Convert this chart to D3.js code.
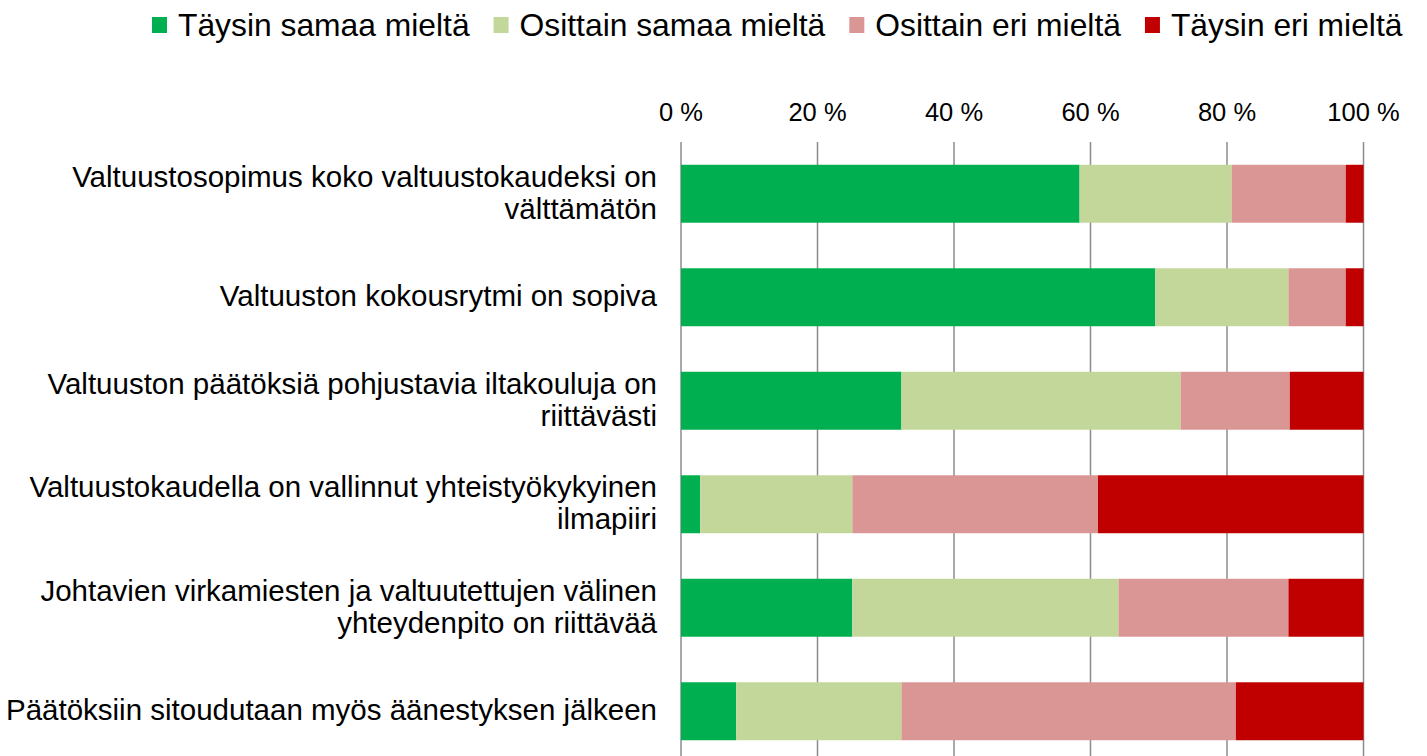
<!DOCTYPE html>
<html><head><meta charset="utf-8">
<script src="https://cdn.jsdelivr.net/npm/d3@7"></script>
<style>body{margin:0;background:#fff;}svg{display:block;font-family:"Liberation Sans",Arial,sans-serif;}</style>
</head><body>
<svg id="c" width="1427" height="756"></svg>
<script>
const categories = [
  ["Valtuustosopimus koko valtuustokaudeksi on", "välttämätön"],
  ["Valtuuston kokousrytmi on sopiva"],
  ["Valtuuston päätöksiä pohjustavia iltakouluja on", "riittävästi"],
  ["Valtuustokaudella on vallinnut yhteistyökykyinen", "ilmapiiri"],
  ["Johtavien virkamiesten ja valtuutettujen välinen", "yhteydenpito on riittävää"],
  ["Päätöksiin sitoudutaan myös äänestyksen jälkeen"]
];
const seriesNames = ["Täysin samaa mieltä", "Osittain samaa mieltä", "Osittain eri mieltä", "Täysin eri mieltä"];
const seriesColors = ["#00b050", "#c4d79b", "#da9694", "#c00000"];
const taysinSamaa   = [58.4, 69.5, 32.3, 2.8, 25.1, 8.1];
const osittainSamaa = [22.3, 19.5, 40.9, 22.3, 39.0, 24.2];
const osittainEri   = [16.7, 8.4, 16.0, 36.0, 24.9, 49.0];
const taysinEri     = [2.6, 2.6, 10.8, 38.9, 11.0, 18.7];
const tickValues = [0, 20, 40, 60, 80, 100];
const tickLabels = ["0 %", "20 %", "40 %", "60 %", "80 %", "100 %"];

(function() {
const svg = d3.select("#c");
const pLeft = 681, pRight = 1363.5, pTop = 142, pBottom = 763;
const x = d3.scaleLinear().domain([0, 100]).range([pLeft, pRight]);
const y = d3.scaleBand().domain(d3.range(categories.length)).range([pTop, pBottom]).paddingInner(0.44).paddingOuter(0.22);

const seriesData = [taysinSamaa, osittainSamaa, osittainEri, taysinEri];
const rows = categories.map((c, i) => {
  const o = {idx: i};
  seriesNames.forEach((s, j) => o[s] = seriesData[j][i]);
  return o;
});
const stack = d3.stack().keys(seriesNames)(rows);

// gridlines
svg.append("g").selectAll("line").data(tickValues).join("line")
  .attr("x1", d => x(d)).attr("x2", d => x(d))
  .attr("y1", pTop).attr("y2", pBottom)
  .attr("stroke", "#8c8c8c").attr("stroke-width", 1.5);

// tick labels
svg.append("g").selectAll("text").data(tickValues).join("text")
  .attr("x", d => x(d)).attr("y", 121)
  .attr("text-anchor", "middle").attr("font-size", 25.5).attr("fill", "#000")
  .text((d, i) => tickLabels[i]);

// bars
svg.append("g").selectAll("g").data(stack).join("g")
  .attr("fill", (d, i) => seriesColors[i])
  .selectAll("rect").data(d => d).join("rect")
  .attr("x", d => x(d[0])).attr("width", d => x(d[1]) - x(d[0]))
  .attr("y", d => y(d.data.idx)).attr("height", y.bandwidth());

// category labels
const lh = 32;
const lab = svg.append("g").selectAll("text").data(categories).join("text")
  .attr("text-anchor", "end").attr("font-size", 29.5).attr("fill", "#000");
lab.each(function(lines, i) {
  const cy = y(i) + y.bandwidth() / 2;
  const n = lines.length;
  d3.select(this).selectAll("tspan").data(lines).join("tspan")
    .attr("x", 657)
    .attr("y", (d, k) => cy + (k - (n - 1) / 2) * lh + 9)
    .text(d => d);
});

// legend
const lg = svg.append("g");
let lx = 152;
seriesNames.forEach((s, i) => {
  lg.append("rect").attr("x", lx).attr("y", 17).attr("width", 15).attr("height", 16).attr("fill", seriesColors[i]);
  const t = lg.append("text").attr("x", lx + 26).attr("y", 36).attr("font-size", 31.8).attr("fill", "#000").text(s);
  lx += 26 + t.node().getComputedTextLength() + 24;
});
})();
</script>
</body></html>
